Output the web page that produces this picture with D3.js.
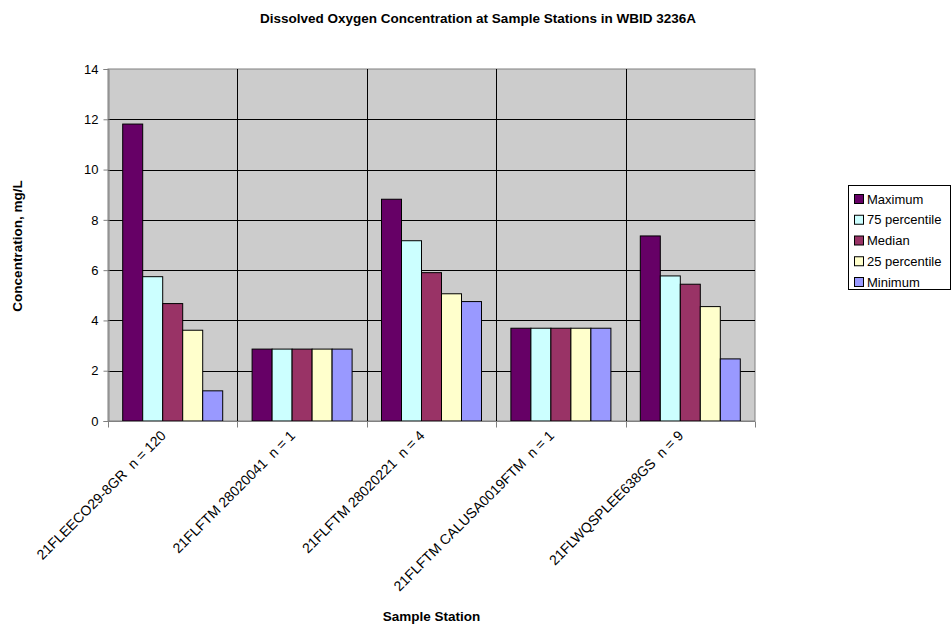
<!DOCTYPE html>
<html>
<head>
<meta charset="utf-8">
<script src="https://cdn.jsdelivr.net/npm/d3@7"></script>
<style>
  body { margin: 0; background: #fff; }
  svg { display: block; font-family: Arial, "Liberation Sans", sans-serif; }
</style>
</head>
<body>
<svg id="chart" width="951" height="627"></svg>
<script>
// Sample stations (category axis)
const stations = [
  "21FLEECO29-8GR  n = 120",
  "21FLFTM 28020041  n = 1",
  "21FLFTM 28020221  n = 4",
  "21FLFTM CALUSA0019FTM  n = 1",
  "21FLWQSPLEE638GS  n = 9"
];

// Statistic series, one value per station (mg/L)
const seriesNames = ["Maximum", "75 percentile", "Median", "25 percentile", "Minimum"];
const maximum     = [11.81, 2.86, 8.82, 3.69, 7.36];
const pct75       = [5.74, 2.86, 7.17, 3.69, 5.77];
const median      = [4.67, 2.86, 5.90, 3.69, 5.44];
const pct25       = [3.61, 2.86, 5.06, 3.69, 4.55];
const minimum     = [1.20, 2.86, 4.75, 3.69, 2.47];
const seriesColors = ["#660066", "#ccffff", "#993366", "#ffffcc", "#9999ff"];

const yTicks = [0, 2, 4, 6, 8, 10, 12, 14];

const seriesValues = [maximum, pct75, median, pct25, minimum];

const svg = d3.select("#chart");
const plot = { left: 108, right: 755, top: 69, bottom: 421 };

const x0 = d3.scaleBand().domain(stations).range([plot.left, plot.right]).padding(0);
const groupPad = 14.7;
const x1 = d3.scaleBand().domain(seriesNames)
  .range([groupPad, x0.bandwidth() - groupPad]).padding(0);
const y = d3.scaleLinear().domain([0, 14]).range([plot.bottom, plot.top]);

// Plot background
svg.append("rect")
  .attr("x", plot.left).attr("y", plot.top)
  .attr("width", plot.right - plot.left).attr("height", plot.bottom - plot.top)
  .attr("fill", "#cccccc").attr("stroke", "#808080").attr("stroke-width", 1);

// Horizontal gridlines
svg.append("g").selectAll("line").data(yTicks.filter(d => d > 0 && d < 14)).join("line")
  .attr("x1", plot.left).attr("x2", plot.right)
  .attr("y1", d => Math.round(y(d)) + 0.5).attr("y2", d => Math.round(y(d)) + 0.5)
  .attr("stroke", "#000").attr("stroke-width", 1);

// Vertical gridlines at category boundaries
const bounds = stations.slice(1).map(s => x0(s));
svg.append("g").selectAll("line").data(bounds).join("line")
  .attr("x1", d => Math.round(d) + 0.5).attr("x2", d => Math.round(d) + 0.5)
  .attr("y1", plot.top).attr("y2", plot.bottom)
  .attr("stroke", "#000").attr("stroke-width", 1);

// Bars
const groups = svg.append("g").selectAll("g").data(stations).join("g")
  .attr("transform", d => `translate(${x0(d)},0)`);
groups.selectAll("rect")
  .data((s, i) => seriesNames.map((name, k) => ({ name, value: seriesValues[k][i], color: seriesColors[k] })))
  .join("rect")
  .attr("x", d => x1(d.name))
  .attr("y", d => y(d.value))
  .attr("width", x1.bandwidth())
  .attr("height", d => y(0) - y(d.value))
  .attr("fill", d => d.color)
  .attr("stroke", "#000").attr("stroke-width", 1);

// Y axis
const yAxis = svg.append("g")
  .attr("transform", `translate(${plot.left + 0.5},0)`)
  .call(d3.axisLeft(y).tickValues(yTicks).tickSize(5).tickPadding(5).tickFormat(d3.format("d")));
yAxis.select(".domain").attr("stroke", "#808080");
yAxis.selectAll(".tick line").attr("stroke", "#808080");
yAxis.selectAll("text").attr("font-size", 13).attr("fill", "#000")
  .attr("font-family", "Arial, 'Liberation Sans', sans-serif");

// X axis with ticks at category boundaries
const xAxisG = svg.append("g").attr("transform", `translate(0,${plot.bottom + 0.5})`);
xAxisG.append("line").attr("x1", plot.left).attr("x2", plot.right)
  .attr("stroke", "#808080");
const tickPos = stations.map(s => x0(s)).concat([plot.right]);
xAxisG.selectAll("line.tk").data(tickPos).join("line").attr("class", "tk")
  .attr("x1", d => Math.round(d) + 0.5).attr("x2", d => Math.round(d) + 0.5)
  .attr("y1", 0).attr("y2", 6).attr("stroke", "#808080");
xAxisG.selectAll("text").data(stations).join("text")
  .attr("transform", d => `translate(${x0(d) + x0.bandwidth() / 2 - 6},${15}) rotate(-45)`)
  .attr("text-anchor", "end")
  .attr("font-size", 14)
  .attr("fill", "#000")
  .attr("xml:space", "preserve")
  .style("white-space", "pre")
  .text(d => d);

// Title
svg.append("text").attr("x", 478).attr("y", 23).attr("text-anchor", "middle")
  .attr("font-size", 13.5).attr("font-weight", "bold")
  .text("Dissolved Oxygen Concentration at Sample Stations in WBID 3236A");

// Axis titles
svg.append("text").attr("x", (plot.left + plot.right) / 2).attr("y", 621).attr("text-anchor", "middle")
  .attr("font-size", 13.5).attr("font-weight", "bold").text("Sample Station");
svg.append("text").attr("transform", "translate(22,246) rotate(-90)").attr("text-anchor", "middle")
  .attr("font-size", 13.5).attr("font-weight", "bold").text("Concentration, mg/L");

// Legend
const legend = svg.append("g");
legend.append("rect").attr("x", 848.5).attr("y", 185.5).attr("width", 102).attr("height", 104)
  .attr("fill", "#fff").attr("stroke", "#000");
const ly = d3.scalePoint().domain(seriesNames).range([199, 282]);
const items = legend.selectAll("g.item").data(seriesNames).join("g").attr("class", "item")
  .attr("transform", d => `translate(0,${ly(d)})`);
items.append("rect").attr("x", 854.5).attr("y", -4.5).attr("width", 9).attr("height", 9)
  .attr("fill", (d, i) => seriesColors[i]).attr("stroke", "#000");
items.append("text").attr("x", 867).attr("y", 4.5).attr("font-size", 13).text(d => d);
</script>
</body>
</html>
